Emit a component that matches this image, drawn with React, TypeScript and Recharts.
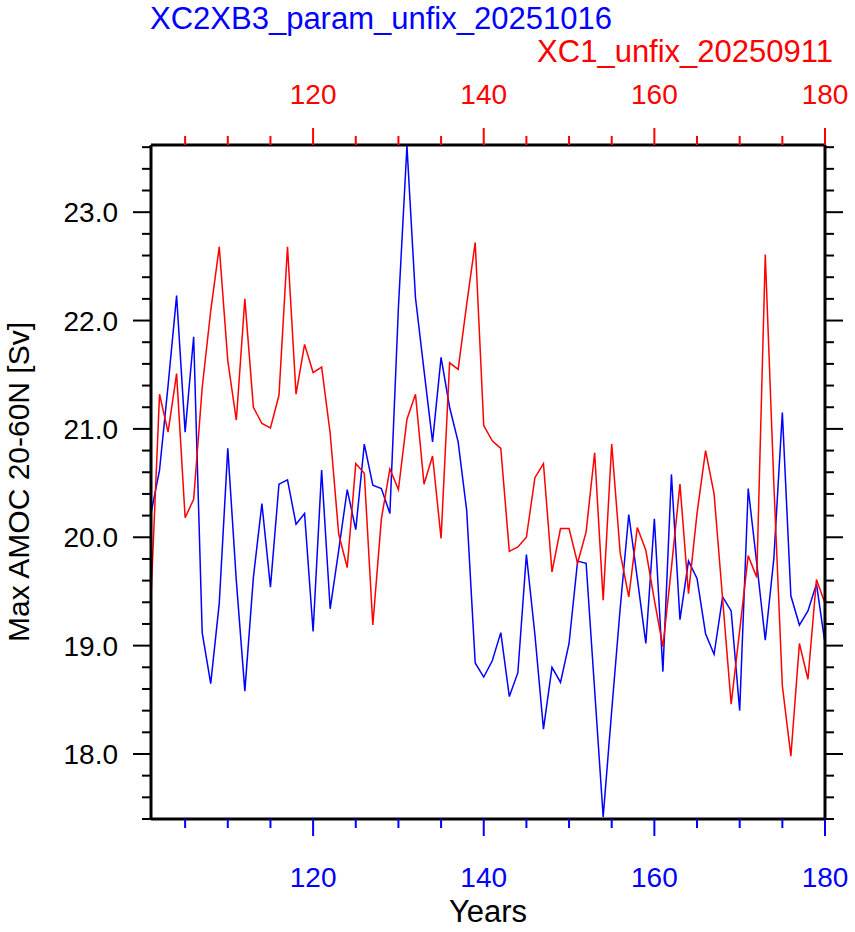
import React from 'react';
import { LineChart, Line, XAxis, YAxis } from 'recharts';

const YEARS = [
  101, 102, 103, 104, 105, 106, 107, 108, 109, 110, 111, 112, 113, 114, 115, 116, 117, 118, 119, 120,
  121, 122, 123, 124, 125, 126, 127, 128, 129, 130, 131, 132, 133, 134, 135, 136, 137, 138, 139, 140,
  141, 142, 143, 144, 145, 146, 147, 148, 149, 150, 151, 152, 153, 154, 155, 156, 157, 158, 159, 160,
  161, 162, 163, 164, 165, 166, 167, 168, 169, 170, 171, 172, 173, 174, 175, 176, 177, 178, 179, 180,
];

// XC2XB3_param_unfix_20251016 (blue, bottom axis)
const BLUE = [
  20.22, 20.62, 21.4, 22.23, 20.97, 21.85, 19.12, 18.65, 19.39, 20.82, 19.6, 18.58, 19.63, 20.31, 19.54, 20.49, 20.53, 20.12, 20.22, 19.13,
  20.62, 19.34, 19.88, 20.44, 20.07, 20.86, 20.48, 20.45, 20.22, 22.12, 23.61, 22.21, 21.54, 20.88, 21.66, 21.2, 20.88, 20.25, 18.84, 18.71,
  18.86, 19.12, 18.53, 18.75, 19.84, 19.1, 18.23, 18.8, 18.66, 19.02, 19.78, 19.76, 18.59, 17.42, 18.4, 19.35, 20.21, 19.62, 19.02, 20.17,
  18.76, 20.58, 19.24, 19.78, 19.62, 19.11, 18.92, 19.45, 19.32, 18.4, 20.45, 19.76, 19.05, 19.8, 21.15, 19.46, 19.19, 19.32, 19.57, 19.02,
];

// XC1_unfix_20250911 (red, top axis)
const RED = [
  19.45, 21.32, 20.97, 21.51, 20.18, 20.35, 21.38, 22.09, 22.68, 21.63, 21.08, 22.2, 21.2, 21.05, 21.01, 21.31, 22.68, 21.32, 21.78, 21.52,
  21.57, 20.96, 20.03, 19.72, 20.68, 20.59, 19.19, 20.17, 20.63, 20.44, 21.09, 21.32, 20.49, 20.75, 19.99, 21.61, 21.55, 22.15, 22.72, 21.03,
  20.89, 20.82, 19.87, 19.91, 20.0, 20.55, 20.68, 19.68, 20.08, 20.08, 19.76, 20.05, 20.78, 19.42, 20.86, 19.85, 19.45, 20.09, 19.88, 19.42,
  18.99, 19.72, 20.49, 19.48, 20.22, 20.8, 20.4, 19.43, 18.46, 19.14, 19.83, 19.63, 22.61, 20.5, 18.63, 17.98, 19.02, 18.69, 19.61, 19.39,
];

const X_MAJOR = [120, 140, 160, 180];
const X_TICKS = [105, 110, 115, 120, 125, 130, 135, 140, 145, 150, 155, 160, 165, 170, 175, 180];
const Y_MAJOR = [18, 19, 20, 21, 22, 23];
const Y_TICKS = [
  17.4, 17.6, 17.8, 18.0, 18.2, 18.4, 18.6, 18.8, 19.0, 19.2, 19.4, 19.6, 19.8, 20.0, 20.2, 20.4,
  20.6, 20.8, 21.0, 21.2, 21.4, 21.6, 21.8, 22.0, 22.2, 22.4, 22.6, 22.8, 23.0, 23.2, 23.4, 23.6,
];

const data = YEARS.map((year, i) => ({ year, blue: BLUE[i], red: RED[i] }));

const FONT = '"Liberation Sans", Arial, Helvetica, sans-serif';
const TICK_FS = 28;
const MAJOR_LEN = 17;
const MINOR_LEN = 9;

const isMajorY = (v: number) => Y_MAJOR.some((m) => Math.abs(m - v) < 1e-6);

const BottomTick = (props: any) => {
  const { x, y, payload } = props;
  const major = X_MAJOR.includes(payload.value);
  return (
    <g>
      <line x1={x} y1={y} x2={x} y2={y + (major ? MAJOR_LEN : MINOR_LEN)} stroke="#0000ff" strokeWidth={2} />
      {major && (
        <text x={x} y={y + 68} textAnchor="middle" fill="#0000ff" fontSize={TICK_FS} fontFamily={FONT}>
          {payload.value}
        </text>
      )}
    </g>
  );
};

const TopTick = (props: any) => {
  const { x, y, payload } = props;
  const major = X_MAJOR.includes(payload.value);
  return (
    <g>
      <line x1={x} y1={y} x2={x} y2={y - (major ? MAJOR_LEN : MINOR_LEN)} stroke="#ff0000" strokeWidth={2} />
      {major && (
        <text x={x} y={y - 41} textAnchor="middle" fill="#ff0000" fontSize={TICK_FS} fontFamily={FONT}>
          {payload.value}
        </text>
      )}
    </g>
  );
};

const LeftTick = (props: any) => {
  const { x, y, payload } = props;
  const major = isMajorY(payload.value);
  return (
    <g>
      <line x1={x} y1={y} x2={x - (major ? 18 : MINOR_LEN)} y2={y} stroke="#000" strokeWidth={2} />
      {major && (
        <text x={x - 33} y={y + 10} textAnchor="end" fill="#000" fontSize={TICK_FS} fontFamily={FONT}>
          {payload.value.toFixed(1)}
        </text>
      )}
    </g>
  );
};

const RightTick = (props: any) => {
  const { x, y, payload } = props;
  const major = isMajorY(payload.value);
  return <line x1={x} y1={y} x2={x + (major ? 18 : MINOR_LEN)} y2={y} stroke="#000" strokeWidth={2} />;
};

const App: React.FC = () => {
  return (
    <div style={{ position: 'absolute', left: 0, top: 0, width: 855, height: 932, background: '#fff' }}>
      <LineChart width={855} height={932} data={data} margin={{ top: 144, right: 29, bottom: 112, left: 150 }}>
        <XAxis
          xAxisId="bottom"
          orientation="bottom"
          type="number"
          dataKey="year"
          domain={[101, 180]}
          ticks={X_TICKS}
          height={1}
          tickSize={0}
          tickMargin={0}
          tickLine={false}
          tick={<BottomTick />}
          axisLine={{ stroke: '#000', strokeWidth: 3 }}
          interval={0}
        />
        <XAxis
          xAxisId="top"
          orientation="top"
          type="number"
          dataKey="year"
          domain={[101, 180]}
          ticks={X_TICKS}
          height={1}
          tickSize={0}
          tickMargin={0}
          tickLine={false}
          tick={<TopTick />}
          axisLine={{ stroke: '#000', strokeWidth: 3 }}
          interval={0}
        />
        <YAxis
          yAxisId="left"
          orientation="left"
          type="number"
          domain={[17.4, 23.62]}
          allowDataOverflow
          ticks={Y_TICKS}
          width={1}
          tickSize={0}
          tickMargin={0}
          tickLine={false}
          tick={<LeftTick />}
          axisLine={{ stroke: '#000', strokeWidth: 3 }}
          interval={0}
        />
        <YAxis
          yAxisId="right"
          orientation="right"
          type="number"
          domain={[17.4, 23.62]}
          allowDataOverflow
          ticks={Y_TICKS}
          width={1}
          tickSize={0}
          tickMargin={0}
          tickLine={false}
          tick={<RightTick />}
          axisLine={{ stroke: '#000', strokeWidth: 3 }}
          interval={0}
        />
        <Line
          xAxisId="bottom"
          yAxisId="left"
          dataKey="blue"
          type="linear"
          stroke="#0000ff"
          strokeWidth={1.5}
          dot={false}
          isAnimationActive={false}
        />
        <Line
          xAxisId="top"
          yAxisId="left"
          dataKey="red"
          type="linear"
          stroke="#ff0000"
          strokeWidth={1.5}
          dot={false}
          isAnimationActive={false}
        />
      </LineChart>
      <svg
        width={855}
        height={932}
        style={{ position: 'absolute', left: 0, top: 0, pointerEvents: 'none' }}
        fontFamily={FONT}
      >
        <text x={150} y={29} fontSize={31} fill="#0000ff">
          XC2XB3_param_unfix_20251016
        </text>
        <text x={833} y={62} fontSize={31} fill="#ff0000" textAnchor="end">
          XC1_unfix_20250911
        </text>
        <text x={488} y={922} fontSize={31} fill="#000" textAnchor="middle">
          Years
        </text>
        <text x={29} y={482} fontSize={30} fill="#000" textAnchor="middle" transform="rotate(-90 29 482)">
          Max AMOC 20-60N [Sv]
        </text>
      </svg>
    </div>
  );
};

export default App;
